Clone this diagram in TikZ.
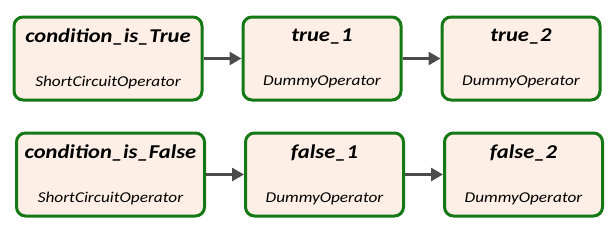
\documentclass[tikz,border=0pt]{standalone}
\usepackage{fontspec}
\setmainfont{Carlito}
\newfontfamily\taskfont[FakeStretch=1.15]{Carlito}
\usepackage{tikz}
\usetikzlibrary{arrows.meta, positioning}
\definecolor{taskgreen}{RGB}{20, 120, 20}
\definecolor{taskfill}{RGB}{253, 238, 230}
\definecolor{edgegray}{RGB}{75, 75, 75}
\newcommand{\tasktitle}[1]{{\fontsize{19.6}{22}\selectfont\bfseries\itshape #1}}
\newcommand{\taskop}[1]{{\fontsize{15}{44}\selectfont\itshape #1}}
\tikzset{
    task/.style={rectangle, draw=taskgreen, fill=taskfill, line width=3pt, rounded corners=9pt,
        minimum width=158pt, minimum height=83pt, align=center, inner sep=0pt,
        font=\taskfont\fontsize{15}{44}\selectfont},
    widetask/.style={task, minimum width=188pt},
    flow/.style={draw, -{Triangle[length=12pt, width=13pt]}, edgegray, line width=2.6pt}
}
\begin{document}
\begin{tikzpicture}[x=1pt, y=-1pt, node distance=38pt]
    \useasboundingbox (0,0) rectangle (614,234);
    % --- first branch: condition holds ---
    \node[widetask] (condtrue) at (108,58.5) {\tasktitle{condition\_is\_True}\\\taskop{ShortCircuitOperator}};
    \node[task, right=of condtrue] (true1) {\tasktitle{true\_1}\\\taskop{DummyOperator}};
    \node[task, right=of true1] (true2) {\tasktitle{true\_2}\\\taskop{DummyOperator}};

    % --- second branch: condition fails ---
    \node[widetask] (condfalse) at (110.5,174.5) {\tasktitle{condition\_is\_False}\\\taskop{ShortCircuitOperator}};
    \node[task, right=of condfalse] (false1) {\tasktitle{false\_1}\\\taskop{DummyOperator}};
    \node[task, right=of false1] (false2) {\tasktitle{false\_2}\\\taskop{DummyOperator}};

    % Connective arrows
    \draw[flow] (condtrue) -- (true1);
    \draw[flow] (true1) -- (true2);
    \draw[flow] (condfalse) -- (false1);
    \draw[flow] (false1) -- (false2);
\end{tikzpicture}
\end{document}
